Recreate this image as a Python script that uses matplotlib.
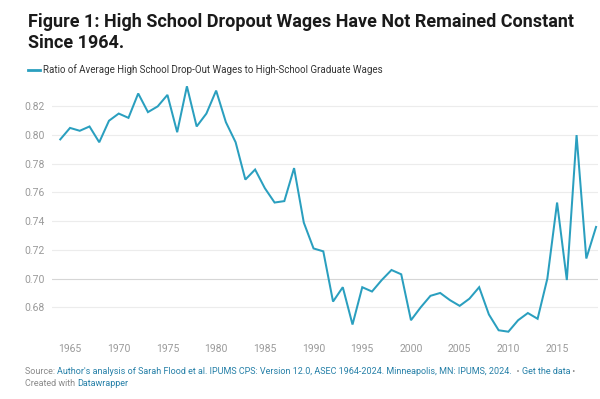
import matplotlib
matplotlib.use("Agg")
import matplotlib.pyplot as plt

plt.rcParams['font.family'] = ['Roboto', 'DejaVu Sans']

years = list(range(1964, 2020))
ratio = [0.797, 0.805, 0.803, 0.806, 0.795, 0.810, 0.815, 0.812, 0.829, 0.816,
         0.820, 0.828, 0.802, 0.834, 0.806, 0.815, 0.831, 0.809, 0.795, 0.769,
         0.776, 0.763, 0.753, 0.754, 0.777, 0.739, 0.721, 0.719, 0.684, 0.694,
         0.668, 0.694, 0.691, 0.699, 0.706, 0.703, 0.671, 0.680, 0.688, 0.690,
         0.685, 0.681, 0.686, 0.694, 0.675, 0.664, 0.663, 0.671, 0.676, 0.672,
         0.700, 0.753, 0.699, 0.800, 0.714, 0.736]
yticks = [0.68, 0.70, 0.72, 0.74, 0.76, 0.78, 0.80, 0.82]
xticks = [1965, 1970, 1975, 1980, 1985, 1990, 1995, 2000, 2005, 2010, 2015]

title_lines = ["Figure 1: High School Dropout Wages Have Not Remained Constant",
               "Since 1964."]
legend_label = "Ratio of Average High School Drop-Out Wages to High-School Graduate Wages"

W, H = 600, 399
fig = plt.figure(figsize=(W / 100, H / 100), dpi=100)
fig.patch.set_facecolor('white')
renderer = fig.canvas.get_renderer()

def fx(px):
    return px / W

def fy(py):
    return 1 - py / H

ax_l, ax_r, ax_t, ax_b = 52, 598, 85, 334
ax = fig.add_axes([fx(ax_l), fy(ax_b), fx(ax_r - ax_l), (ax_b - ax_t) / H])
line_color = '#2a9fbf'
ax.plot(years, ratio, color=line_color, lw=1.45, solid_joinstyle='miter', zorder=3)
ax.set_xlim(1963.15, 2019.2)
ax.set_ylim(0.6614, 0.8349)
ax.set_yticks(yticks)
ax.set_yticklabels([f"{v:.2f}" for v in yticks])
ax.set_xticks(xticks)
ax.set_xticklabels([str(v) for v in xticks])
for v in yticks:
    ax.axhline(v, color='#d6d6d6' if abs(v - 0.70) < 1e-9 else '#ececec', lw=0.8, zorder=1)
for s in ax.spines.values():
    s.set_visible(False)
ax.tick_params(axis='both', length=0, labelsize=7.5, labelcolor='#9a9a9a')
ax.tick_params(axis='y', pad=5)
ax.tick_params(axis='x', pad=7)

def fit_text(x, y, s, width_px, size, **kw):
    t = fig.text(fx(x), fy(y), s, fontsize=size, **kw)
    w = t.get_window_extent(renderer).width
    t.set_fontsize(size * width_px / w)
    return t

t1 = fit_text(28, 26.7, title_lines[0], 545, 13, fontweight='bold', color='#1a1a1a',
              va='baseline', ha='left')
fig.text(fx(28), fy(47.7), title_lines[1], fontsize=t1.get_fontsize(), fontweight='bold',
         color='#1a1a1a', va='baseline', ha='left')

# legend
fig.add_artist(plt.Line2D([fx(28), fx(40)], [fy(69.5), fy(69.5)], color=line_color, lw=2.0))
fit_text(43, 69.5, legend_label, 342, 7.2, color='#333333', va='center', ha='left')

# source lines with mixed colors
gray = '#8a8a8a'
blue = '#2680a8'

def seq(pieces, x0, y0, size):
    x = x0
    for txt, col in pieces:
        t = fig.text(fx(x), fy(y0), txt, fontsize=size, color=col, va='center', ha='left')
        x += t.get_window_extent(renderer).width

seq([("Source: ", gray),
     ("Author's analysis of Sarah Flood et al. IPUMS CPS: Version 12.0, ASEC 1964-2024. Minneapolis, MN: IPUMS, 2024.", blue),
     ("  \u2022 ", gray), ("Get the data", blue), (" \u2022", gray)], 25, 371.5, 6.5)
seq([("Created with ", gray), ("Datawrapper", blue)], 25, 383, 6.5)

fig.savefig("out.png", dpi=100, facecolor='white')
